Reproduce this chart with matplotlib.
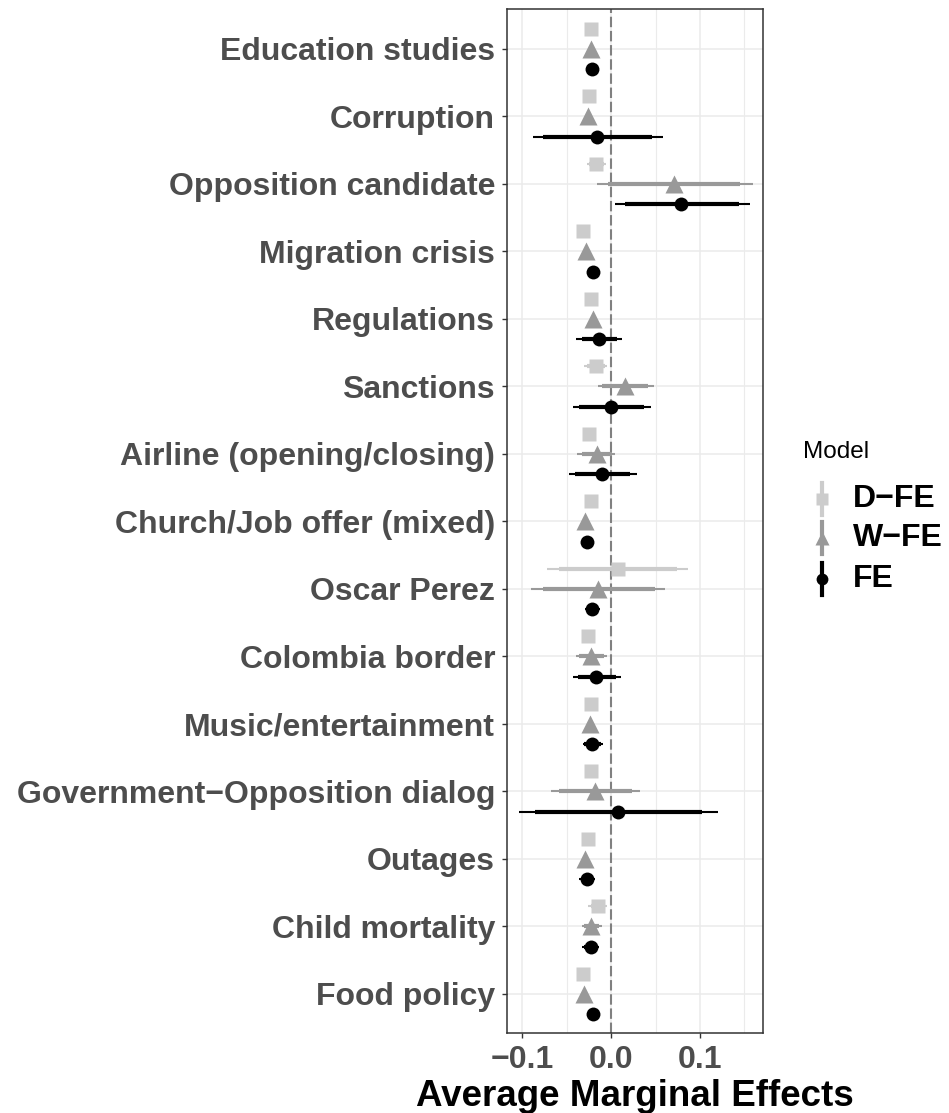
import matplotlib

matplotlib.use("Agg")
import matplotlib.pyplot as plt
import numpy as np

plt.rcParams["font.family"] = ["Liberation Sans", "DejaVu Sans"]

CATEGORIES = [
    "Education studies",
    "Corruption",
    "Opposition candidate",
    "Migration crisis",
    "Regulations",
    "Sanctions",
    "Airline (opening/closing)",
    "Church/Job offer (mixed)",
    "Oscar Perez",
    "Colombia border",
    "Music/entertainment",
    "Government\u2212Opposition dialog",
    "Outages",
    "Child mortality",
    "Food policy",
]

# D-FE
DFE_EST = [-0.023, -0.025, -0.017, -0.031, -0.023, -0.017, -0.025, -0.023, 0.008, -0.026, -0.023, -0.023, -0.026, -0.015, -0.032]
DFE_LO95 = [-0.026, -0.028, -0.027, -0.034, -0.026, -0.030, -0.028, -0.026, -0.072, -0.029, -0.026, -0.026, -0.029, -0.026, -0.035]
DFE_HI95 = [-0.020, -0.022, -0.006, -0.028, -0.020, -0.005, -0.022, -0.020, 0.086, -0.023, -0.020, -0.020, -0.023, -0.004, -0.029]
DFE_LO90 = [-0.025, -0.027, -0.025, -0.033, -0.025, -0.027, -0.027, -0.025, -0.058, -0.028, -0.025, -0.025, -0.028, -0.023, -0.034]
DFE_HI90 = [-0.021, -0.023, -0.008, -0.029, -0.021, -0.007, -0.023, -0.021, 0.074, -0.024, -0.021, -0.021, -0.024, -0.007, -0.030]

# W-FE
WFE_EST = [-0.022, -0.026, 0.071, -0.028, -0.020, 0.016, -0.016, -0.029, -0.015, -0.022, -0.024, -0.018, -0.029, -0.022, -0.030]
WFE_LO95 = [-0.025, -0.029, -0.016, -0.031, -0.023, -0.015, -0.038, -0.032, -0.090, -0.039, -0.027, -0.067, -0.032, -0.033, -0.033]
WFE_HI95 = [-0.019, -0.023, 0.159, -0.025, -0.017, 0.048, 0.005, -0.026, 0.061, -0.004, -0.021, 0.033, -0.026, -0.010, -0.027]
WFE_LO90 = [-0.024, -0.028, -0.003, -0.030, -0.022, -0.010, -0.033, -0.031, -0.077, -0.036, -0.026, -0.059, -0.031, -0.030, -0.032]
WFE_HI90 = [-0.020, -0.024, 0.145, -0.026, -0.018, 0.042, 0.001, -0.027, 0.049, -0.008, -0.022, 0.024, -0.027, -0.013, -0.028]

# FE
FE_EST = [-0.021, -0.016, 0.079, -0.020, -0.014, 0.000, -0.010, -0.027, -0.021, -0.017, -0.021, 0.008, -0.027, -0.023, -0.020]
FE_LO95 = [-0.024, -0.088, 0.004, -0.025, -0.039, -0.043, -0.047, -0.030, -0.029, -0.043, -0.032, -0.103, -0.036, -0.033, -0.023]
FE_HI95 = [-0.018, 0.058, 0.156, -0.015, 0.012, 0.045, 0.029, -0.024, -0.012, 0.011, -0.009, 0.120, -0.018, -0.013, -0.017]
FE_LO90 = [-0.023, -0.077, 0.016, -0.024, -0.033, -0.036, -0.040, -0.029, -0.027, -0.037, -0.030, -0.085, -0.033, -0.030, -0.022]
FE_HI90 = [-0.019, 0.046, 0.144, -0.016, 0.007, 0.037, 0.021, -0.025, -0.014, 0.006, -0.011, 0.102, -0.021, -0.016, -0.018]

MODELS = [
    ("D\u2212FE", "#CCCCCC", "s", 9.5, 0.3, DFE_EST, DFE_LO95, DFE_HI95, DFE_LO90, DFE_HI90),
    ("W\u2212FE", "#999999", "^", 12.5, 0.0, WFE_EST, WFE_LO95, WFE_HI95, WFE_LO90, WFE_HI90),
    ("FE", "#000000", "o", 10, -0.3, FE_EST, FE_LO95, FE_HI95, FE_LO90, FE_HI90),
]

TEXT_GREY = "#4D4D4D"
GRID = "#EBEBEB"

fig = plt.figure(figsize=(9.49, 11.13), dpi=100)
ax = fig.add_axes([507 / 949, 1 - 1033 / 1113, 256 / 949, 1024 / 1113])

n = len(CATEGORIES)
pos = n - 1 - np.arange(n)

for x in [-0.05, 0.05, 0.15]:
    ax.axvline(x, color=GRID, lw=0.8, zorder=0)
for x in [-0.1, 0.0, 0.1]:
    ax.axvline(x, color=GRID, lw=1.1, zorder=0)
for y in pos:
    ax.axhline(y, color=GRID, lw=1.1, zorder=0)

ax.axvline(0, color="#808080", lw=1.5, linestyle=(0, (5, 1.8)), zorder=1)

for name, color, marker, ms, off, est, lo95, hi95, lo90, hi90 in MODELS:
    y = pos + off
    ax.hlines(y, lo95, hi95, color=color, lw=1.5, zorder=2)
    ax.hlines(y, lo90, hi90, color=color, lw=3.0, zorder=2)
    ax.plot(est, y, linestyle="none", marker=marker, ms=ms, color=color, mec="none", zorder=3)

ax.set_xlim(-0.1169, 0.1708)
ax.set_ylim(-0.58, n - 1 + 0.59)
ax.set_yticks(pos)
ax.set_yticklabels(CATEGORIES, fontsize=23, fontweight="bold", color=TEXT_GREY)
ax.set_xticks([-0.1, 0.0, 0.1])
ax.set_xticklabels(["\u22120.1", "0.0", "0.1"], fontsize=23, fontweight="bold", color=TEXT_GREY)
ax.tick_params(axis="both", length=3.6, width=1.0, color="#333333")
ax.tick_params(axis="y", pad=5)
ax.tick_params(axis="x", pad=5)
for s in ax.spines.values():
    s.set_color("#333333")
    s.set_linewidth(1.1)
ax.set_xlabel("Average Marginal Effects", fontsize=26.5, fontweight="bold", color="black", labelpad=3)

# legend drawn by hand so the keys stand upright like the original
lax = fig.add_axes([0, 0, 1, 1])
lax.set_xlim(0, 949)
lax.set_ylim(1113, 0)
lax.axis("off")
lax.text(803, 452, "Model", fontsize=17.5, va="center", ha="left")
key_y = [499, 538, 579]
for (name, color, marker, ms, *_), ky in zip(MODELS, key_y):
    lax.plot([822, 822], [ky - 16, ky + 16], color=color, lw=3.0)
    lax.plot(822, ky, marker=marker, ms=ms * 0.85, color=color, mec="none")
    lax.text(853, ky, name, fontsize=23, fontweight="bold", va="center", ha="left")

fig.savefig("out.png", dpi=100)
